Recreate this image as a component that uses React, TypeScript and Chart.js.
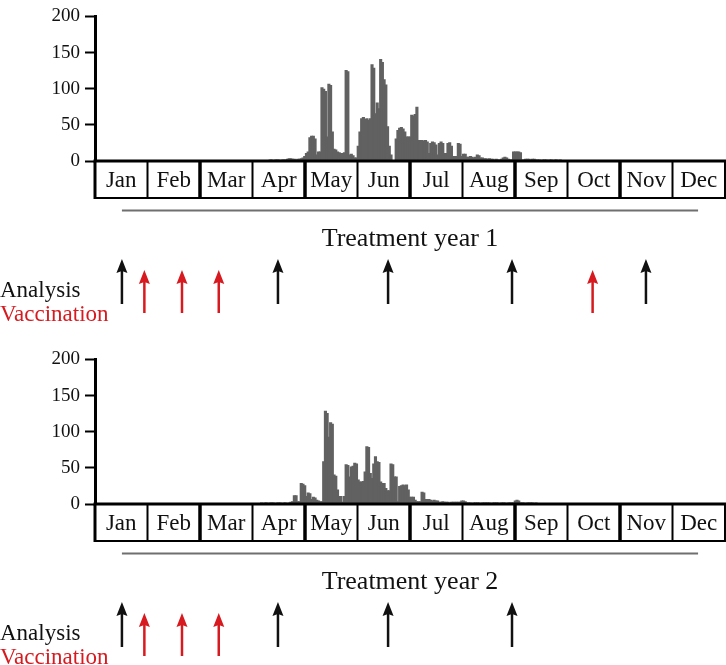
import React, { useEffect, useRef } from 'react';
import { Chart, registerables } from 'chart.js';

Chart.register(...registerables);

// ---------------- data ----------------
const MONTHS = ['Jan', 'Feb', 'Mar', 'Apr', 'May', 'Jun', 'Jul', 'Aug', 'Sep', 'Oct', 'Nov', 'Dec'];
const DAYS_IN_YEAR = 365;
const Y_MIN = 0;
const Y_MAX = 200;
const Y_STEP = 50;

// Year 1: daily counts, first value is day-of-year YEAR1_START_DAY
const YEAR1_START_DAY = 101;
const YEAR1_VALUES = [
  1, 1, 0, 1, 1, 1, 0, 1, 1, 1,
  2, 3, 3, 2, 2, 1, 2, 2, 3, 4,
  6, 10, 12, 32, 34, 34, 30, 8, 12, 12,
  101, 99, 96, 33, 106, 104, 40, 16, 15, 12,
  11, 10, 10, 11, 125, 123, 8, 9, 7, 4,
  4, 20, 40, 58, 60, 57, 58, 56, 58, 133,
  128, 65, 80, 72, 140, 136, 112, 105, 47, 20,
  8, 0, 0, 30, 42, 45, 46, 44, 40, 33,
  33, 33, 63, 62, 64, 74, 28, 28, 28, 27,
  28, 26, 10, 24, 26, 25, 22, 8, 24, 26,
  24, 10, 10, 24, 25, 20, 6, 6, 6, 24,
  23, 6, 9, 9, 5, 5, 6, 5, 4, 5,
  8, 7, 4, 4, 3, 3, 2, 3, 2, 2,
  1, 2, 1, 1, 2, 4, 5, 4, 2, 1,
  1, 12, 12, 12, 12, 11, 1, 1, 2, 2,
  2, 1, 2, 2, 1, 1, 1, 0, 1, 1,
  1, 0, 1, 1, 0, 1, 1, 0, 1,
];

// Year 2: daily counts, first value is day-of-year YEAR2_START_DAY
const YEAR2_START_DAY = 96;
const YEAR2_VALUES = [
  1, 0, 1, 1, 0, 1, 1, 1, 0, 1,
  1, 1, 0, 1, 1, 0, 1, 2, 3, 11,
  11, 3, 3, 28, 27, 25, 10, 15, 14, 6,
  9, 8, 5, 4, 3, 3, 58, 128, 125, 92,
  112, 110, 40, 38, 19, 10, 10, 2, 10, 54,
  53, 37, 51, 52, 56, 55, 33, 30, 30, 31,
  44, 79, 78, 42, 35, 55, 65, 58, 57, 30,
  28, 28, 21, 18, 18, 55, 54, 37, 37, 3,
  24, 25, 26, 25, 26, 19, 9, 9, 9, 5,
  3, 3, 3, 16, 15, 6, 6, 6, 5, 4,
  5, 4, 4, 2, 2, 3, 2, 2, 2, 1,
  2, 2, 2, 2, 2, 2, 4, 4, 3, 1,
  1, 1, 0, 1, 1, 1, 1, 0, 1, 1,
  1, 1, 1, 0, 1, 1, 1, 1, 0, 1,
  1, 1, 0, 1, 1, 1, 1, 4, 5, 4,
  1, 1, 1, 0, 1, 1, 1, 1, 0, 1,
];

// Event days (day of year)
const YEAR1_ANALYSIS_DAYS = [15.6, 106, 169.8, 241.6, 319.2];
const YEAR1_VACCINATION_DAYS = [28.6, 50.4, 71.7, 288.3];
const YEAR2_ANALYSIS_DAYS = [15.6, 106, 169.8, 241.6];
const YEAR2_VACCINATION_DAYS = [28.6, 50.4, 71.7];

const PANEL_TITLES = ['Treatment year 1', 'Treatment year 2'];
const LEGEND_LABELS = ['Analysis', 'Vaccination'];

// timeline (grey rule) extent in days
const TIMELINE_START_DAY = 15.6;
const TIMELINE_END_DAY = 349.4;

// ---------------- styles ----------------
const FONT = '"Liberation Serif", "Times New Roman", serif';
const BAR_COLOR = '#616161';
const RED = '#d71a1f';
const BLACK = '#111111';

function drawArrow(ctx: CanvasRenderingContext2D, x: number, top: number, bottom: number, color: string) {
  ctx.strokeStyle = color;
  ctx.fillStyle = color;
  ctx.lineWidth = 2.5;
  ctx.beginPath();
  ctx.moveTo(x, bottom);
  ctx.lineTo(x, top + 10);
  ctx.stroke();
  ctx.beginPath();
  ctx.moveTo(x, top);
  ctx.lineTo(x - 5.5, top + 14);
  ctx.lineTo(x, top + 12);
  ctx.lineTo(x + 5.5, top + 14);
  ctx.closePath();
  ctx.fill();
}

type PanelProps = {
  startDay: number;
  values: number[];
  analysis: number[];
  vaccination: number[];
  title: string;
  top: number;
  height: number;
};

function Panel({ startDay, values, analysis, vaccination, title, top, height }: PanelProps) {
  const ref = useRef<HTMLCanvasElement>(null);

  useEffect(() => {
    const canvas = ref.current;
    if (!canvas) return;

    const decor = {
      id: 'panelDecor',
      afterDraw(chart: any) {
        const { ctx, chartArea, scales } = chart;
        const xs = scales.x;
        const b = chartArea.bottom;
        const left = xs.getPixelForValue(0);
        const right = xs.getPixelForValue(DAYS_IN_YEAR);
        ctx.save();

        // month boxes
        const boxBottom = b + 37;
        ctx.strokeStyle = '#000';
        ctx.lineWidth = 2;
        ctx.beginPath();
        ctx.moveTo(left - 1, boxBottom);
        ctx.lineTo(right, boxBottom);
        ctx.stroke();
        ctx.lineWidth = 3;
        ctx.beginPath();
        ctx.moveTo(left - 1.5, b);
        ctx.lineTo(right + 1, b);
        ctx.stroke();
        for (let m = 0; m <= MONTHS.length; m++) {
          const px = xs.getPixelForValue((m * DAYS_IN_YEAR) / MONTHS.length);
          let w = 2;
          if (m === 0) w = 3;
          else if (m < MONTHS.length && m % 2 === 0) w = 3.5;
          ctx.lineWidth = w;
          ctx.beginPath();
          ctx.moveTo(px, b);
          ctx.lineTo(px, boxBottom + 1);
          ctx.stroke();
        }
        ctx.fillStyle = BLACK;
        ctx.font = `23px ${FONT}`;
        ctx.textAlign = 'center';
        ctx.textBaseline = 'alphabetic';
        MONTHS.forEach((m, i) => {
          const c = xs.getPixelForValue(((i + 0.5) * DAYS_IN_YEAR) / MONTHS.length);
          ctx.fillText(m, c, b + 26);
        });

        // timeline rule
        ctx.strokeStyle = '#6f6f6f';
        ctx.lineWidth = 2;
        ctx.beginPath();
        ctx.moveTo(xs.getPixelForValue(TIMELINE_START_DAY), b + 49.5);
        ctx.lineTo(xs.getPixelForValue(TIMELINE_END_DAY), b + 49.5);
        ctx.stroke();

        // title
        ctx.fillStyle = BLACK;
        ctx.font = `26px ${FONT}`;
        ctx.textAlign = 'center';
        ctx.fillText(title, (chartArea.left + chartArea.right) / 2, b + 85);

        // arrows
        analysis.forEach((d) => drawArrow(ctx, xs.getPixelForValue(d), b + 98, b + 143, BLACK));
        vaccination.forEach((d) => drawArrow(ctx, xs.getPixelForValue(d), b + 109, b + 152, RED));

        // labels
        ctx.font = `23px ${FONT}`;
        ctx.textAlign = 'left';
        ctx.fillStyle = BLACK;
        ctx.fillText(LEGEND_LABELS[0], 0, b + 136);
        ctx.fillStyle = RED;
        ctx.fillText(LEGEND_LABELS[1], 0, b + 160);

        ctx.restore();
      },
    };

    const chart = new Chart(canvas, {
      type: 'bar',
      data: {
        datasets: [
          {
            data: values.map((v, i) => ({ x: startDay + i + 0.5, y: v })),
            backgroundColor: BAR_COLOR,
            borderWidth: 0,
            barPercentage: 1,
            categoryPercentage: 1,
            inflateAmount: 0.7,
          } as any,
        ],
      },
      options: {
        responsive: false,
        animation: false,
        devicePixelRatio: 1,
        layout: { padding: { top: 14, right: 1, bottom: height - 161, left: 0 } },
        plugins: { legend: { display: false }, tooltip: { enabled: false } },
        scales: {
          x: { type: 'linear', min: 0, max: DAYS_IN_YEAR, display: false, offset: false },
          y: {
            min: Y_MIN,
            max: Y_MAX,
            afterFit: (s: any) => {
              s.width = 95;
            },
            border: { display: true, color: '#000', width: 3 },
            grid: {
              drawOnChartArea: false,
              drawTicks: true,
              tickLength: 10,
              tickWidth: 2,
              tickColor: '#000',
              color: '#000',
            },
            ticks: {
              stepSize: Y_STEP,
              color: BLACK,
              padding: 5,
              font: { family: FONT, size: 19 },
            },
          },
        },
      } as any,
      plugins: [decor],
    });
    return () => chart.destroy();
  }, []);

  return (
    <canvas
      ref={ref}
      width={726}
      height={height}
      style={{ position: 'absolute', left: 0, top, width: 726, height, display: 'block' }}
    />
  );
}

export default function App() {
  return (
    <div
      style={{
        position: 'absolute',
        left: 0,
        top: 0,
        width: 726,
        height: 665,
        overflow: 'hidden',
        background: '#fff',
      }}
    >
      <Panel
        startDay={YEAR1_START_DAY}
        values={YEAR1_VALUES}
        analysis={YEAR1_ANALYSIS_DAYS}
        vaccination={YEAR1_VACCINATION_DAYS}
        title={PANEL_TITLES[0]}
        top={0}
        height={343}
      />
      <Panel
        startDay={YEAR2_START_DAY}
        values={YEAR2_VALUES}
        analysis={YEAR2_ANALYSIS_DAYS}
        vaccination={YEAR2_VACCINATION_DAYS}
        title={PANEL_TITLES[1]}
        top={343}
        height={322}
      />
    </div>
  );
}
